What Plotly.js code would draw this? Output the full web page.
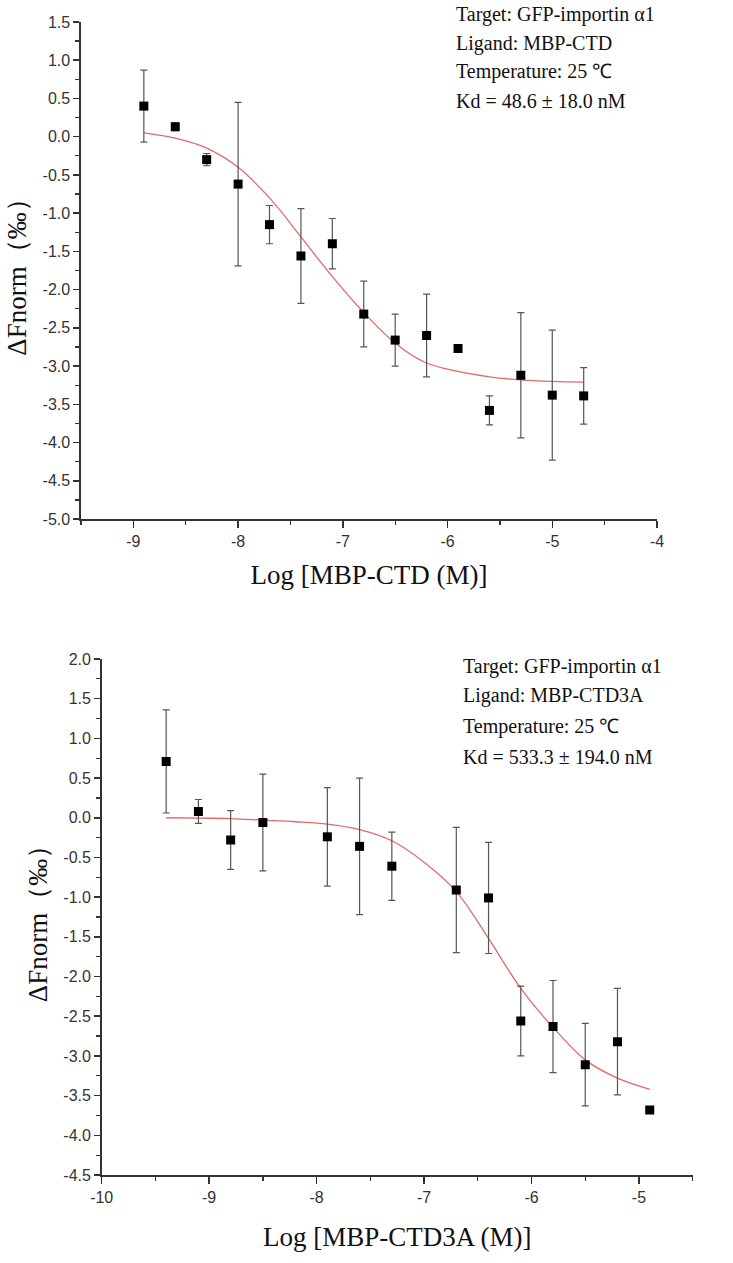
<!DOCTYPE html>
<html>
<head>
<meta charset="utf-8">
<script src="https://cdn.plot.ly/plotly-3.0.1.min.js"></script>
<style>html,body{margin:0;padding:0;background:#fff;}#chart{width:733px;height:1263px;}</style>
</head>
<body>
<div id="chart"></div>
<script>
// ---- Panel A: MBP-CTD ----
var logConcA = [-8.9, -8.6, -8.3, -8.0, -7.7, -7.4, -7.1, -6.8, -6.5, -6.2, -5.9, -5.6, -5.3, -5.0, -4.7];
var fnormA   = [0.40, 0.13, -0.30, -0.62, -1.15, -1.56, -1.40, -2.32, -2.66, -2.60, -2.77, -3.58, -3.12, -3.38, -3.39];
var errA     = [0.47, 0.05, 0.08, 1.07, 0.25, 0.62, 0.33, 0.43, 0.34, 0.54, 0.03, 0.19, 0.82, 0.85, 0.37];
var fitXA    = [-8.9, -8.6, -8.3, -8.0, -7.7, -7.4, -7.1, -6.8, -6.5, -6.2, -5.9, -5.6, -5.3, -5.0, -4.7];
var fitYA    = [0.05, -0.02, -0.15, -0.40, -0.80, -1.31, -1.83, -2.30, -2.70, -2.96, -3.07, -3.14, -3.18, -3.20, -3.21];
var xTicksA  = [-9, -8, -7, -6, -5, -4];
var yTicksA  = [1.5, 1.0, 0.5, 0.0, -0.5, -1.0, -1.5, -2.0, -2.5, -3.0, -3.5, -4.0, -4.5, -5.0];
var infoA    = ["Target: GFP-importin \u03b11", "Ligand: MBP-CTD", "Temperature: 25 \u2103", "Kd = 48.6 \u00b1 18.0 nM"];
var xTitleA  = "Log [MBP-CTD (M)]";

// ---- Panel B: MBP-CTD3A ----
var logConcB = [-9.4, -9.1, -8.8, -8.5, -7.9, -7.6, -7.3, -6.7, -6.4, -6.1, -5.8, -5.5, -5.2, -4.9];
var fnormB   = [0.71, 0.08, -0.28, -0.06, -0.24, -0.36, -0.61, -0.91, -1.01, -2.56, -2.63, -3.11, -2.82, -3.68];
var errB     = [0.65, 0.15, 0.37, 0.61, 0.62, 0.86, 0.43, 0.79, 0.70, 0.44, 0.58, 0.52, 0.67, 0.02];
var fitXB    = [-9.4, -9.1, -8.8, -8.5, -8.2, -7.9, -7.6, -7.3, -7.0, -6.7, -6.4, -6.1, -5.8, -5.5, -5.2, -4.9];
var fitYB    = [0.00, -0.005, -0.01, -0.03, -0.05, -0.08, -0.15, -0.29, -0.56, -0.93, -1.52, -2.15, -2.64, -3.05, -3.28, -3.42];
var xTicksB  = [-10, -9, -8, -7, -6, -5];
var yTicksB  = [2.0, 1.5, 1.0, 0.5, 0.0, -0.5, -1.0, -1.5, -2.0, -2.5, -3.0, -3.5, -4.0, -4.5];
var infoB    = ["Target: GFP-importin \u03b11", "Ligand: MBP-CTD3A", "Temperature: 25 \u2103", "Kd = 533.3 \u00b1 194.0 nM"];
var xTitleB  = "Log [MBP-CTD3A (M)]";
var yTitle   = "\u0394Fnorm\uff08\u2030\uff09";

var W = 733, H = 1263;
function px(x){ return x / W; }
function py(y){ return 1 - y / H; }

var serif = "Liberation Serif, Times New Roman, serif";
var sans = "Liberation Sans, Arial, sans-serif";
var axisCol = "#333";

function pointTrace(x, y, e, xa, ya){
  return {x: x, y: y, xaxis: xa, yaxis: ya, type: "scatter", mode: "markers",
    marker: {symbol: "square", size: 9, color: "#000"},
    error_y: {type: "data", array: e, visible: true, color: "#555", thickness: 1.2, width: 3.5},
    showlegend: false, hoverinfo: "x+y"};
}
function fitTrace(x, y, xa, ya){
  return {x: x, y: y, xaxis: xa, yaxis: ya, type: "scatter", mode: "lines",
    line: {color: "#e06a6a", width: 1.3, shape: "spline", smoothing: 1.0},
    showlegend: false, hoverinfo: "skip"};
}

function xAxis(domain, range, ticks, title, anchor, standoff){
  return {domain: domain, range: range, anchor: anchor, automargin: false,
    tickvals: ticks, ticktext: ticks.map(function(v){ return String(v); }),
    showline: true, linecolor: axisCol, linewidth: 1.6, mirror: false,
    ticks: "outside", ticklen: 7, tickwidth: 1.5, tickcolor: axisCol,
    minor: {dtick: 0.5, ticks: "outside", ticklen: 4, tickwidth: 1.3, tickcolor: axisCol, showgrid: false},
    showgrid: false, zeroline: false,
    tickfont: {family: sans, size: 16, color: "#333"},
    title: {text: title, font: {family: serif, size: 27, color: "#111"}, standoff: standoff}};
}
function yAxis(domain, range, ticks, anchor){
  return {domain: domain, range: range, anchor: anchor, automargin: false,
    tickvals: ticks, ticktext: ticks.map(function(v){ return v.toFixed(1); }),
    showline: true, linecolor: axisCol, linewidth: 1.6, mirror: false,
    ticks: "outside", ticklen: 6, tickwidth: 1.5, tickcolor: axisCol,
    minor: {dtick: 0.25, ticks: "outside", ticklen: 4, tickwidth: 1.3, tickcolor: axisCol, showgrid: false},
    showgrid: false, zeroline: false,
    tickfont: {family: sans, size: 16, color: "#333"},
    title: {text: yTitle, font: {family: serif, size: 27, color: "#111"}, standoff: 8}};
}

var data = [
  fitTrace(fitXA, fitYA, "x", "y"),
  pointTrace(logConcA, fnormA, errA, "x", "y"),
  fitTrace(fitXB, fitYB, "x2", "y2"),
  pointTrace(logConcB, fnormB, errB, "x2", "y2")
];

var annotations = [];
var linesA = [14, 43, 72, 101];
var linesB = [666, 696, 726, 757];
infoA.forEach(function(t, i){
  annotations.push({text: t, xref: "paper", yref: "paper", x: px(454), y: py(linesA[i]),
    xanchor: "left", yanchor: "middle", showarrow: false,
    font: {family: serif, size: 20, color: "#111"}});
});
infoB.forEach(function(t, i){
  annotations.push({text: t, xref: "paper", yref: "paper", x: px(461), y: py(linesB[i]),
    xanchor: "left", yanchor: "middle", showarrow: false,
    font: {family: serif, size: 20, color: "#111"}});
});

var layout = {
  width: W, height: H,
  margin: {l: 0, r: 0, t: 0, b: 0, pad: 0},
  paper_bgcolor: "#fff", plot_bgcolor: "#fff",
  showlegend: false,
  xaxis: xAxis([px(81), px(657)], [-9.5, -4], xTicksA, xTitleA, "y", 16),
  yaxis: yAxis([py(519), py(22)], [-5, 1.5], yTicksA, "x"),
  xaxis2: xAxis([px(101.7), px(692.7)], [-10, -4.5], xTicksB, xTitleB, "y2", 22),
  yaxis2: yAxis([py(1175), py(659)], [-4.5, 2.0], yTicksB, "x2"),
  annotations: annotations
};

Plotly.newPlot("chart", data, layout, {displayModeBar: false, staticPlot: true});
</script>
</body>
</html>
